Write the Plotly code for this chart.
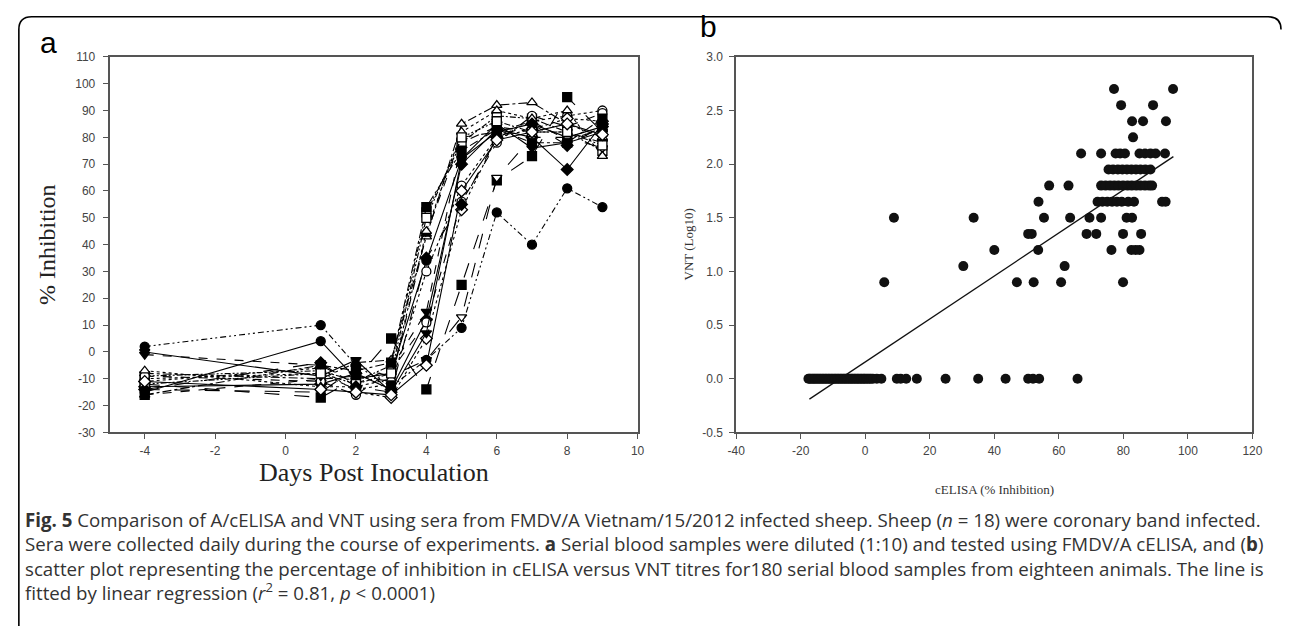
import plotly.graph_objects as go

W, H = 1292, 634

# ---------------- Panel a data ----------------
days = [-4, 1, 2, 3, 4, 5, 6, 7, 8, 9]
sheep_values = {
    "S1":  [-15, 4, -10, -8, 34, 72, 82, 85, 80, 84],
    "S2":  [-10, -8, -14, -12, 30, 62, 80, 86, 88, 90],
    "S3":  [-1, -5, -12, -6, 15, 78, 84, 82, 82, 78],
    "S4":  [-8, -10, -4, -3, 43, 85, 92, 93, 85, 80],
    "S5":  [-12, -17, -10, 5, -14, 25, 64, 73, 95, 82],
    "S6":  [-9, -7, -11, -5, 52, 78, 88, 87, 82, 75],
    "S7":  [-13, -12, -8, -14, 12, 70, 83, 80, 68, 85],
    "S8":  [-11, -6, -15, -17, 5, 53, 80, 83, 87, 86],
    "S9":  [-16, -10, -9, -11, 44, 80, 82, 86, 79, 83],
    "S10": [-14, -15, -6, -9, -3, 13, 65, 80, 80, 76],
    "S11": [2, 10, -5, -13, -3, 9, 52, 40, 61, 54],
    "S12": [-9, -11, -16, -7, 11, 56, 78, 88, 84, 89],
    "S13": [0, -9, -3, -15, 7, 72, 85, 76, 78, 82],
    "S14": [-7, -13, -13, -10, 45, 82, 90, 87, 90, 73],
    "S15": [-16, -5, -7, -4, 54, 75, 83, 78, 78, 87],
    "S16": [-12, -8, -12, -8, 50, 80, 86, 82, 82, 77],
    "S17": [-14, -4, -13, -15, 35, 55, 80, 85, 77, 84],
    "S18": [-11, -14, -15, -16, -5, 60, 79, 82, 85, 81],
}
a_xticks = [-4, -2, 0, 2, 4, 6, 8, 10]
a_xticklabels = ["-4", "-2", "0", "2", "4", "6", "8", "10"]
a_yticks = [-30, -20, -10, 0, 10, 20, 30, 40, 50, 60, 70, 80, 90, 100, 110]
a_yticklabels = ["-30", "-20", "-10", "0", "10", "20", "30", "40", "50", "60",
                 "70", "80", "90", "100", "110"]

# ---------------- Panel b data ----------------
vnt_levels = [0.9, 1.05, 1.2, 1.35, 1.5, 1.65, 1.8, 1.95, 2.1, 2.25, 2.4, 2.55, 2.7]
celisa_by_level = [
    [5.9, 47, 52.2, 60.7, 79.9],
    [30.4, 61.8],
    [40, 53.6, 76.3, 82.5, 83.8, 85],
    [50.5, 51.6, 68.6, 71.6, 79.9, 85.5],
    [8.9, 33.6, 55.4, 63.5, 69.5, 73.1, 81, 82.7],
    [53.7, 72, 73.5, 75, 76.5, 78, 79.5, 81.5, 83.3, 92, 93.1],
    [57, 63, 73.1, 74.5, 75.9, 77.2, 78.5, 79.9, 81.3, 82.6, 84, 85.3, 86.7, 88, 88.9],
    [75.4, 76.8, 78.3, 79.7, 81.1, 82.5, 83.9, 85.3, 86.8, 88.4],
    [66.9, 73.1, 77.6, 79, 80.5, 85, 86.7, 88.4, 90, 92.9],
    [83],
    [82.7, 86.1, 93.2],
    [79.3, 89.2],
    [77.1, 95.4],
]
celisa_zero = [-17.6, -17.2, -16.8, -16.3, -15.9, -15.5, -15.0, -14.6, -14.1, -13.7,
               -13.2, -12.8, -12.3, -11.9, -11.4, -11.0, -10.5, -10.1, -9.6, -9.2,
               -8.7, -8.3, -7.8, -7.4, -6.9, -6.5, -6.0, -5.6, -5.1, -4.7,
               -4.2, -3.8, -3.3, -2.9, -2.4, -2.0, -1.5, -1.1, -0.6, -0.2,
               0.3, 0.8, 1.3, 1.8, 2.4, 3.6, 5.0, 9.8, 11.0, 12.7, 16.0, 24.9,
               35.0, 43.5, 50.5, 52.0, 53.9, 65.8]
reg_x = [-17.3, 95.5]
reg_y = [-0.19, 2.07]
b_xticks = [-40, -20, 0, 20, 40, 60, 80, 100, 120]
b_xticklabels = ["-40", "-20", "0", "20", "40", "60", "80", "100", "120"]
b_yticks = [-0.5, 0.0, 0.5, 1.0, 1.5, 2.0, 2.5, 3.0]
b_yticklabels = ["-0.5", "0.0", "0.5", "1.0", "1.5", "2.0", "2.5", "3.0"]

# ---------------- styles ----------------
symbols = ["circle", "circle", "triangle-down", "triangle-up", "square", "square",
           "diamond", "diamond", "triangle-up", "triangle-down"]
filled = [True, False, True, False, True, False, True, False, True, False]
dashes = ["solid", "dot", "dash", "dashdot", "longdash", "6px,2px,2px,2px,2px,2px",
          "solid", "dot", "dash", "longdash", "6px,3px,2px,3px,2px,3px", "dash",
          "solid", "dot", "dashdot", "6px,2px,2px,2px,2px,2px", "longdash", "solid"]

fig = go.Figure()

for i, (name, vals) in enumerate(sheep_values.items()):
    k = i % len(symbols)
    fig.add_trace(go.Scatter(
        x=days, y=vals, mode="lines+markers", name=name,
        xaxis="x", yaxis="y",
        line=dict(color="black", width=1.1, dash=dashes[i]),
        marker=dict(symbol=symbols[k], size=9,
                    color="black" if filled[k] else "white",
                    line=dict(color="black", width=1.3)),
        showlegend=False,
    ))

bx, by = [], []
for lvl, xs in zip(vnt_levels, celisa_by_level):
    for v in xs:
        bx.append(v)
        by.append(lvl)
for v in celisa_zero:
    bx.append(v)
    by.append(0.0)

fig.add_trace(go.Scatter(
    x=bx, y=by, mode="markers", xaxis="x2", yaxis="y2",
    marker=dict(symbol="circle", size=10, color="#111111", line=dict(width=0)),
    showlegend=False,
))
fig.add_trace(go.Scatter(
    x=reg_x, y=reg_y, mode="lines", xaxis="x2", yaxis="y2",
    line=dict(color="#111111", width=1.3), showlegend=False,
))


def px_x(p):
    return p / W


def px_y(p):
    return 1 - p / H


tickfont = dict(family="Liberation Sans, Arial", size=12, color="#444444")
axis_common = dict(showline=True, linecolor="#555555", linewidth=1.6, mirror=True,
                   ticks="outside", ticklen=5, tickcolor="#555555", tickwidth=1.3,
                   showgrid=False, zeroline=False, tickfont=tickfont)

a_left, a_right, a_top, a_bot = 102, 638, 51, 435
b_left, b_right, b_top, b_bot = 738, 1262, 51, 435

fig.update_layout(
    width=W, height=H,
    margin=dict(l=0, r=0, t=0, b=0),
    paper_bgcolor="white", plot_bgcolor="white",
    xaxis=dict(domain=[px_x(a_left), px_x(a_right)], range=[-5, 10],
               tickvals=a_xticks, ticktext=a_xticklabels, anchor="y",
               ticklabelstandoff=1, **axis_common),
    yaxis=dict(domain=[px_y(a_bot), px_y(a_top)], range=[-30, 110],
               tickvals=a_yticks, ticktext=a_yticklabels, anchor="x",
               ticklabelstandoff=5, **axis_common),
    xaxis2=dict(domain=[px_x(b_left), px_x(b_right)], range=[-40, 120],
                tickvals=b_xticks, ticktext=b_xticklabels, anchor="y2",
                ticklabelstandoff=1, **axis_common),
    yaxis2=dict(domain=[px_y(b_bot), px_y(b_top)], range=[-0.5, 3.0],
                tickvals=b_yticks, ticktext=b_yticklabels, anchor="x2",
                ticklabelstandoff=4, **axis_common),
)

ann = []
# panel letters
ann.append(dict(text="a", x=px_x(29), y=px_y(36), xanchor="left", yanchor="middle",
                font=dict(family="Liberation Sans, Arial", size=30, color="black")))
ann.append(dict(text="b", x=px_x(699), y=px_y(20), xanchor="left", yanchor="middle",
                font=dict(family="Liberation Sans, Arial", size=30, color="black")))
# axis titles
ann.append(dict(text="% Inhibition", x=px_x(38), y=px_y((a_top + a_bot) / 2),
                textangle=-90, xanchor="center", yanchor="middle",
                font=dict(family="Liberation Serif, Times New Roman", size=24, color="#222222")))
ann.append(dict(text="Days Post Inoculation", x=px_x((a_left + a_right) / 2), y=px_y(476),
                xanchor="center", yanchor="middle",
                font=dict(family="Liberation Serif, Times New Roman", size=26, color="#222222")))
ann.append(dict(text="VNT (Log10)", x=px_x(690), y=px_y((b_top + b_bot) / 2),
                textangle=-90, xanchor="center", yanchor="middle",
                font=dict(family="Liberation Serif, Times New Roman", size=13, color="#333333")))
ann.append(dict(text="cELISA (% Inhibition)", x=px_x((b_left + b_right) / 2), y=px_y(493),
                xanchor="center", yanchor="middle",
                font=dict(family="Liberation Serif, Times New Roman", size=13, color="#333333")))

caption_lines = [
    "<b>Fig. 5</b> Comparison of A/cELISA and VNT using sera from FMDV/A Vietnam/15/2012 infected sheep. Sheep (<i>n</i> = 18) were coronary band infected.",
    "Sera were collected daily during the course of experiments. <b>a</b> Serial blood samples were diluted (1:10) and tested using FMDV/A cELISA, and (<b>b</b>)",
    "scatter plot representing the percentage of inhibition in cELISA versus VNT titres for180 serial blood samples from eighteen animals. The line is",
    "fitted by linear regression (<i>r</i><sup>2</sup> = 0.81, <i>p</i> &lt; 0.0001)",
]
caption_font = 18.7
caption_first_y = 525
caption_center = caption_first_y + 1.5 * 1.3 * caption_font
ann.append(dict(text="<br>".join(caption_lines), x=px_x(14), y=px_y(caption_center),
                xanchor="left", yanchor="middle", align="left",
                font=dict(family="Open Sans", size=caption_font, color="#333333")))

for a in ann:
    a.update(xref="paper", yref="paper", showarrow=False)
fig.update_layout(annotations=ann)

# rounded frame around the figure, kept inside the page (clipped at right/bottom)
x0, x1 = px_x(10), px_x(1291)
y0 = px_y(10)
rx, ry = 13 / W, 13 / H
ybot = px_y(633)
path = (f"M {x0},{ybot} L {x0},{y0 - ry} Q {x0},{y0} {x0 + rx},{y0} "
        f"L {x1 - rx},{y0} Q {x1},{y0} {x1},{y0 - ry}")
fig.add_shape(type="path", path=path, xref="paper", yref="paper",
              line=dict(color="black", width=1.6))

fig.write_html("out.html", config={"displayModeBar": False},
               post_script="document.body.style.margin='0';document.body.style.overflow='hidden';")
